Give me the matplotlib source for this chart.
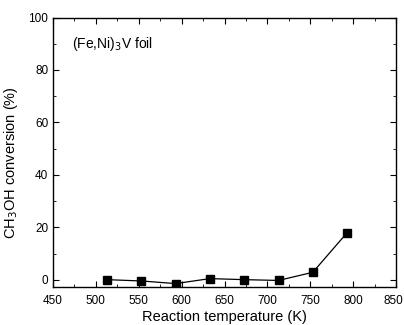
import matplotlib
matplotlib.use('Agg')
import matplotlib.pyplot as plt
import matplotlib.transforms as mtransforms
import numpy as np
from matplotlib.ticker import MultipleLocator

temperature = [513, 553, 593, 633, 673, 713, 753, 793]
conversion = [0.1, -0.4, -1.4, 0.5, 0.1, -0.2, 2.9, 18.0]

plt.rcParams['font.family'] = ['Liberation Sans', 'DejaVu Sans']

fig = plt.figure(figsize=(4.04, 3.25), dpi=100)
ax = fig.add_axes([53/404, 1-287/325, 343/404, 269.5/325])

ax.plot(temperature, conversion, '-s', color='black', markersize=5.5, linewidth=0.9)

ax.set_xlim(450, 850)
ax.set_ylim(-2.7, 100)
ax.xaxis.set_major_locator(MultipleLocator(50))
ax.xaxis.set_minor_locator(MultipleLocator(25))
ax.yaxis.set_major_locator(MultipleLocator(20))
ax.yaxis.set_minor_locator(MultipleLocator(10))
ax.tick_params(which='both', direction='in', top=True, right=True, labelsize=8.5)
ax.tick_params(which='major', length=4)
ax.tick_params(which='minor', length=2)
ax.tick_params(axis='x', pad=6)
for s in ax.spines.values():
    s.set_linewidth(1.0)

ax.set_xlabel('Reaction temperature (K)', fontsize=10.5, labelpad=2)
ax.set_ylabel('CH$_3$OH conversion (%)', fontsize=10.5)
ax.yaxis.set_label_coords(-0.095, 0.46)
ax.text(0.055, 0.90, '(Fe,Ni)$_3$V foil', transform=ax.transAxes, fontsize=10, va='center')

# keep the 850 label inside the canvas
fig.canvas.draw()
last = [t for t in ax.get_xticklabels() if t.get_text() == '850']
for t in last:
    t.set_transform(t.get_transform() + mtransforms.ScaledTranslation(-3/100, 0, fig.dpi_scale_trans))

fig.savefig('out.png', dpi=100)
